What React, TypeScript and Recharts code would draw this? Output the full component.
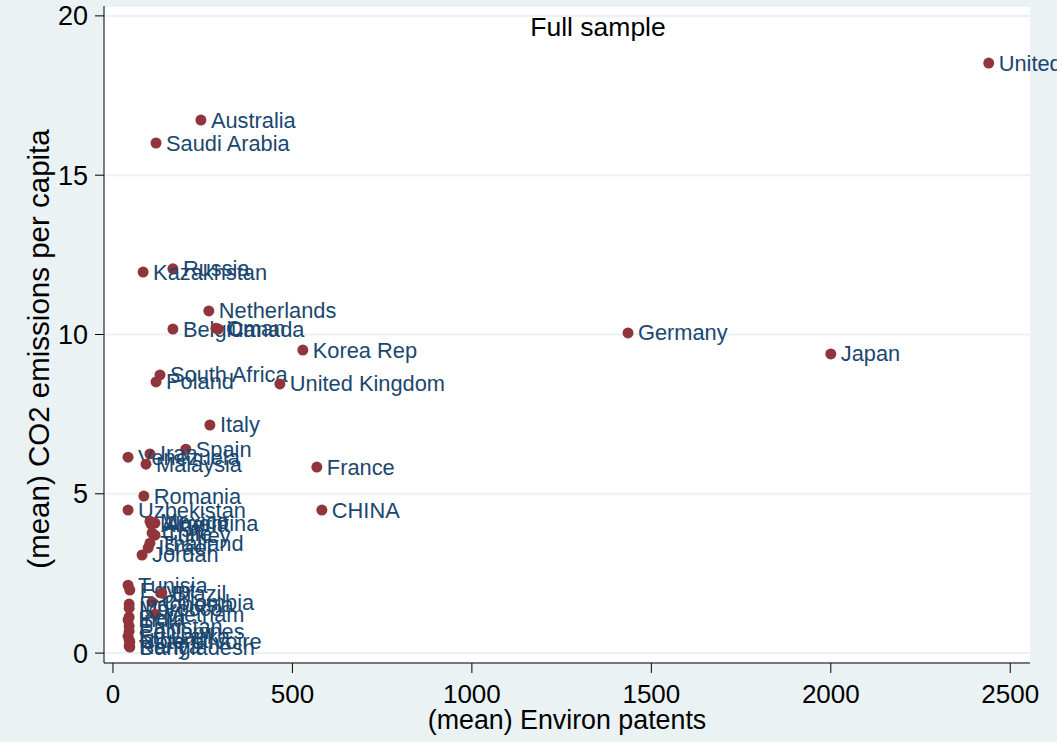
import { ScatterChart, Scatter, XAxis, YAxis, CartesianGrid } from "recharts";

const countries = [
  "United States", "Australia", "Saudi Arabia", "Russia", "Kazakhstan", "Netherlands",
  "Belgium", "Oman", "Canada", "Korea Rep", "Germany", "Japan", "South Africa", "Poland",
  "United Kingdom", "Italy", "Spain", "Iran", "Venezuela", "Malaysia", "France", "Romania",
  "Uzbekistan", "CHINA", "Mexico", "Argentina", "Algeria", "Chile", "Turkey", "Thailand",
  "Israel", "Jordan", "Tunisia", "Egypt", "Brazil", "Colombia", "Indonesia", "Morocco",
  "Vietnam", "Peru", "India", "Pakistan", "Philippines", "Sri Lanka", "Nigeria",
  "Cote d'Ivoire", "Kenya", "Bangladesh",
];

const patents = [
  2440, 245, 120, 167, 84, 267,
  167, 287, 293, 529, 1435, 2000, 131, 120,
  465, 270, 203, 103, 42, 92, 568, 86,
  42, 582, 103, 117, 106, 109, 117, 103,
  98, 81, 42, 47, 136, 109, 45, 45,
  117, 45, 42, 45, 45, 42, 45,
  47, 45, 47,
];

const co2 = [
  18.52, 16.73, 16.01, 12.06, 11.96, 10.74,
  10.17, 10.2, 10.17, 9.51, 10.05, 9.39, 8.73, 8.51,
  8.45, 7.16, 6.4, 6.25, 6.15, 5.93, 5.84, 4.93,
  4.49, 4.49, 4.14, 4.08, 4.05, 3.77, 3.7, 3.45,
  3.3, 3.08, 2.13, 1.98, 1.88, 1.6, 1.54, 1.41,
  1.22, 1.13, 1.04, 0.85, 0.69, 0.53, 0.41,
  0.35, 0.22, 0.19,
];

const xTicks = [0, 500, 1000, 1500, 2000, 2500];
const yTicks = [0, 5, 10, 15, 20];

const data = countries.map((name, i) => ({ name, x: patents[i], y: co2[i] }));

const font = "'Liberation Sans', Arial, sans-serif";

const Dot = (props: any) => {
  const { cx, cy, payload } = props;
  return (
    <g>
      <circle cx={cx} cy={cy} r={5.5} fill="#90353b" />
      <text
        x={cx + 10}
        y={cy}
        dominantBaseline="central"
        fontSize={21.8}
        fontFamily={font}
        fill="#1a476f"
      >
        {payload.name}
      </text>
    </g>
  );
};

export default function App() {
  return (
    <div style={{ position: "absolute", left: 0, top: 0, width: 1057, height: 742, background: "#eaf2f3" }}>
      <ScatterChart width={1057} height={742} margin={{ top: 6, right: 27, bottom: 0, left: 0 }}>
        <CartesianGrid vertical={false} fill="#fff" stroke="#eaf2f3" strokeWidth={2} />
        <XAxis
          type="number"
          dataKey="x"
          domain={[-25, 2555]}
          ticks={xTicks}
          interval={0}
          height={79}
          tickSize={10}
          tickMargin={12}
          axisLine={{ stroke: "#000" }}
          tickLine={{ stroke: "#000" }}
          tick={{ fill: "#000", fontSize: 26, fontFamily: font }}
        />
        <YAxis
          type="number"
          dataKey="y"
          domain={[-0.31, 20.31]}
          ticks={yTicks}
          interval={0}
          width={104}
          tickSize={9}
          tickMargin={7}
          axisLine={{ stroke: "#000" }}
          tickLine={{ stroke: "#000" }}
          tick={{ fill: "#000", fontSize: 27, fontFamily: font }}
        />
        <Scatter data={data} shape={Dot} isAnimationActive={false} />
      </ScatterChart>
      <svg
        width={1057}
        height={742}
        style={{ position: "absolute", left: 0, top: 0, pointerEvents: "none" }}
      >
        <text x={598} y={27} textAnchor="middle" dominantBaseline="central" fontSize={26.5} fontFamily={font} fill="#000">
          Full sample
        </text>
        <text x={567} y={720} textAnchor="middle" dominantBaseline="central" fontSize={26.8} fontFamily={font} fill="#000">
          (mean) Environ patents
        </text>
        <text
          x={38}
          y={349}
          textAnchor="middle"
          dominantBaseline="central"
          fontSize={29.5}
          fontFamily={font}
          fill="#000"
          transform="rotate(-90 38 349)"
        >
          (mean) CO2 emissions per capita
        </text>
      </svg>
    </div>
  );
}
